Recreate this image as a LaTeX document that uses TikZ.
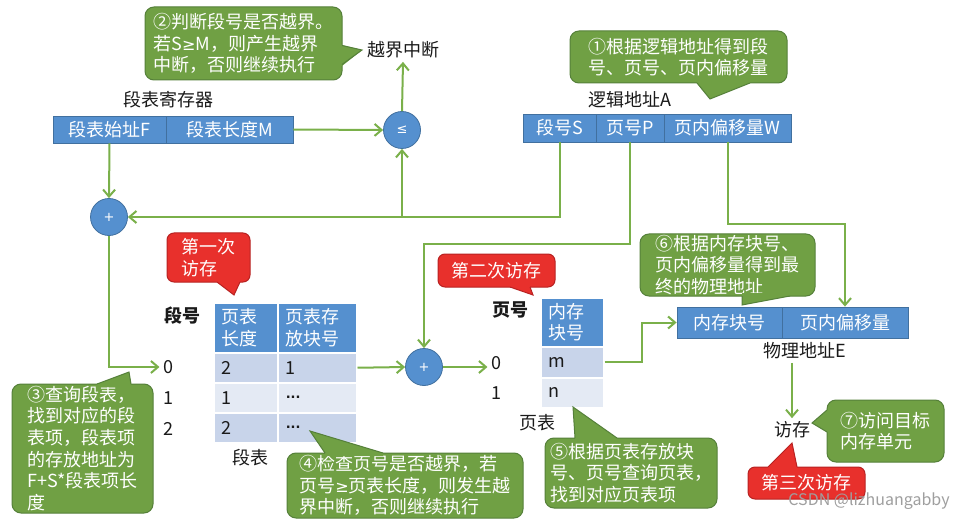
\documentclass[tikz,border=0pt]{standalone}
\usepackage{fontspec}
\setmainfont{Noto Sans CJK SC}
\newfontfamily\symf{DejaVu Sans}
\usetikzlibrary{arrows.meta,calc}
\definecolor{cgreen}{HTML}{70A044}
\definecolor{cgreenD}{HTML}{55803A}
\definecolor{cred}{HTML}{E8302C}
\definecolor{credD}{HTML}{B82222}
\definecolor{cblue}{HTML}{5590CF}
\definecolor{cblueD}{HTML}{41709F}
\definecolor{rowD}{HTML}{C8D4EA}
\definecolor{rowL}{HTML}{E4EAF4}
\definecolor{clink}{HTML}{7AB04A}
\definecolor{ctext}{HTML}{1A1A1A}
\newcommand{\gesym}{{\symf\fontsize{16}{16}\selectfont ≥}}
\newcommand{\dotsx}{{\symf\bfseries\fontsize{13}{13}\selectfont ...}}
\begin{document}
\begin{tikzpicture}[x=1pt,y=-1pt,
  every node/.style={font=\fontsize{18}{21.7}\selectfont, text=ctext},
  conn/.style={draw=clink, line width=2pt},
  arr/.style={conn, -{Straight Barb[length=7pt,width=12pt]}},
  callg/.style={rectangle, rounded corners=9pt, fill=cgreen, draw=cgreenD, line width=1pt, text=white, align=left, inner sep=0pt},
  callr/.style={rectangle, rounded corners=7pt, fill=cred, draw=credD, line width=1pt, text=white, align=left, inner sep=0pt},
  ptrg/.style={fill=cgreen},
  ptrgl/.style={draw=cgreenD, line width=1pt, line join=miter},
  ptrr/.style={fill=cred},
  ptrrl/.style={draw=credD, line width=1pt, line join=miter},
  bbox/.style={rectangle, fill=cblue, draw=cblueD, line width=0.8pt, text=white, inner sep=0pt, minimum height=28pt},
  circ/.style={circle, fill=cblue, draw=cblueD, line width=0.8pt, text=white, minimum size=37pt, inner sep=0pt, font=\symf\fontsize{13}{13}\selectfont},
  cell/.style={rectangle, draw=white, line width=1.5pt, inner xsep=8pt, inner ysep=0pt, anchor=north west, align=left},
  bold/.style={font=\fontsize{18}{21.7}\selectfont\bfseries}
]
\fill[white] (0,0) rectangle (968,521);
\useasboundingbox (0,0) rectangle (968,521);

% blue address boxes
\node[bbox, minimum width=113pt, minimum height=27pt] (regF) at (109.5,129.5) {段表始址F};
\node[bbox, minimum width=127pt, minimum height=27pt] (regM) at (229.5,129.5) {段表长度M};
\node[bbox, minimum width=73pt] (laS) at (559.5,128) {段号S};
\node[bbox, minimum width=68pt] (laP) at (630,128) {页号P};
\node[bbox, minimum width=127pt] (laW) at (727.5,128) {页内偏移量W};
\node[bbox, minimum width=105pt, minimum height=31pt] (peB) at (729.5,322.5) {内存块号};
\node[bbox, minimum width=126pt, minimum height=31pt] (peO) at (845,322.5) {页内偏移量};

% circles
\node[circ] (le) at (402,130) {≤};
\node[circ] (plus1) at (109,217) {+};
\node[circ] (plus2) at (424,367) {+};

% labels
\node (yj) at (403,50) {越界中断};
\node (regL) at (168,100) {段表寄存器};
\node (laL) at (630,100) {逻辑地址A};
\node[bold] (segNo) at (182,316) {段号};
\node (r0) at (168,367) {0};
\node (r1) at (168,398) {1};
\node (r2) at (168,429) {2};
\node (segL) at (250,458) {段表};
\node[bold] (pgNo) at (510,310) {页号};
\node (p0) at (496,363) {0};
\node (p1) at (496,393) {1};
\node (pgL) at (537,423) {页表};
\node (peL) at (805,351) {物理地址E};
\node (fc) at (792,430) {访存};

% segment table
\node[cell, fill=cblue, text=white, text width=48pt, minimum height=50pt] (sh1) at (213,302) {页表\\长度};
\node[cell, fill=cblue, text=white, text width=63pt, minimum height=50pt] (sh2) at (277,302) {页表存\\放块号};
\node[cell, fill=rowD, text width=48pt, minimum height=30pt] (s01) at (213,352) {2};
\node[cell, fill=rowD, text width=63pt, minimum height=30pt] (s02) at (277,352) {1};
\node[cell, fill=rowL, text width=48pt, minimum height=30pt] (s11) at (213,382) {1};
\node[cell, fill=rowL, text width=63pt, minimum height=30pt] (s12) at (277,382) {\dotsx};
\node[cell, fill=rowD, text width=48pt, minimum height=30pt] (s21) at (213,412) {2};
\node[cell, fill=rowD, text width=63pt, minimum height=30pt] (s22) at (277,412) {\dotsx};

% page table
\node[cell, fill=cblue, text=white, text width=47pt, minimum height=49pt] (ph) at (540,297) {内存\\块号};
\node[cell, fill=rowD, text width=47pt, minimum height=31pt] (pm) at (540,346) {m};
\node[cell, fill=rowL, text width=47pt, minimum height=30pt] (pn) at (540,377) {n};

% connectors
\coordinate (pj) at (424,244);
\coordinate (wj) at (845,224);
\coordinate (pk) at (642,322.5);
\draw[arr] (regM.east) -- (le.west);
\draw[arr] (regF.south) -- (plus1.north);
\draw[arr] (laS.south) |- (plus1.east);
\draw[arr] (le.south |- plus1.east) -- (le.south);
\draw[arr] (le.north) -- (yj.south);
\draw[arr] (plus1.south) |- (r0.west);
\draw[arr] (laP.south) |- (pj) -- (plus2.north);
\draw[arr] (laW.south) |- (wj) -- (peO.north);
\draw[arr] (s02.east) -- (plus2.west);
\draw[arr] (plus2.east) -- (plus2.east -| p0.west);
\draw[arr] (pm.east) -| (pk) -- (peB.west);
\draw[arr] (peL.south -| fc.north) -- (fc.north);

% callout 2
\node[callg, minimum width=197pt, minimum height=73pt] (c2) at (243.5,43.5) {②判断段号是否越界。\\若S\gesym M，则产生越界\\中断，否则继续执行};
\fill[ptrg] (339,45) -- (342,45) -- (362,50) -- (342,66) -- (339,66) -- cycle;
\draw[ptrgl] (342,45.5) -- (362,50) -- (342,64.5);

% callout 1
\node[callg, minimum width=217pt, minimum height=52pt] (c1) at (678.5,57) {①根据逻辑地址得到段\\号、页号、页内偏移量};
\fill[ptrg] (697,80) -- (697,83) -- (710,99) -- (750,83) -- (750,80) -- cycle;
\draw[ptrgl] (697,83) -- (710,99) -- (750,83);

% red 1
\node[callr, minimum width=83pt, minimum height=49pt] (rr1) at (208.5,257.5) {第一次\\访存};
\fill[ptrr] (217,279) -- (217,282) -- (234,295) -- (240,282) -- (240,279) -- cycle;
\draw[ptrrl] (217,282) -- (234,295) -- (240,282);

% callout 3
\node[callg, minimum width=141pt, minimum height=129pt] (c3) at (82.5,448.5) {③查询段表，\\找到对应的段\\表项，段表项\\的存放地址为\\F+S*段表项长\\度};
\fill[ptrg] (97,387) -- (97,384) -- (129,372) -- (131,384) -- (131,387) -- cycle;
\draw[ptrgl] (97,384) -- (129,372) -- (131,384);

% callout 4
\node[callg, minimum width=236pt, minimum height=65pt] (c4) at (405,485.5) {④检查页号是否越界，若\\页号\gesym 页表长度，则发生越\\界中断，否则继续执行};
\fill[ptrg] (325,456) -- (325,453) -- (310,431) -- (383,453) -- (383,456) -- cycle;
\draw[ptrgl] (325,453) -- (310,431) -- (383,453);

% red 2
\node[callr, minimum width=117pt, minimum height=33pt] (rr2) at (496.5,270.5) {第二次访存};
\fill[ptrr] (510,284) -- (510,287) -- (533,295) -- (530,287) -- (530,284) -- cycle;
\draw[ptrrl] (510,287) -- (533,295) -- (530,287);

% callout 6
\node[callg, minimum width=175pt, minimum height=62pt] (c6) at (727.5,265) {⑥根据内存块号、\\页内偏移量得到最\\终的物理地址};
\fill[ptrg] (742,293) -- (742,296) -- (742,305) -- (790,296) -- (790,293) -- cycle;
\draw[ptrgl] (742,296) -- (742,305) -- (790,296);

% callout 5
\node[callg, minimum width=172pt, minimum height=70pt] (c5) at (631,473) {⑤根据页表存放块\\号、页号查询页表，\\找到对应页表项};
\fill[ptrg] (575,441) -- (575,438) -- (573,407) -- (617,438) -- (617,441) -- cycle;
\draw[ptrgl] (575,438) -- (573,407) -- (617,438);

% callout 7
\node[callg, minimum width=117pt, minimum height=62pt] (c7) at (885.5,431) {⑦访问目标\\内存单元};
\fill[ptrg] (830,410) -- (827,410) -- (812,423) -- (827,432) -- (830,432) -- cycle;
\draw[ptrgl] (827,410) -- (812,423) -- (827,432);

% red 3
\node[callr, minimum width=117pt, minimum height=32pt] (rr3) at (806.5,483) {第三次访存};
\fill[ptrr] (768,470) -- (768,467) -- (792,443) -- (797,467) -- (797,470) -- cycle;
\draw[ptrrl] (768,467) -- (792,443) -- (797,467);

% watermark
\node[text=gray!75, font=\fontsize{16}{16}\selectfont] (wm) at (869,501) {CSDN @lizhuangabby};
\end{tikzpicture}
\end{document}
